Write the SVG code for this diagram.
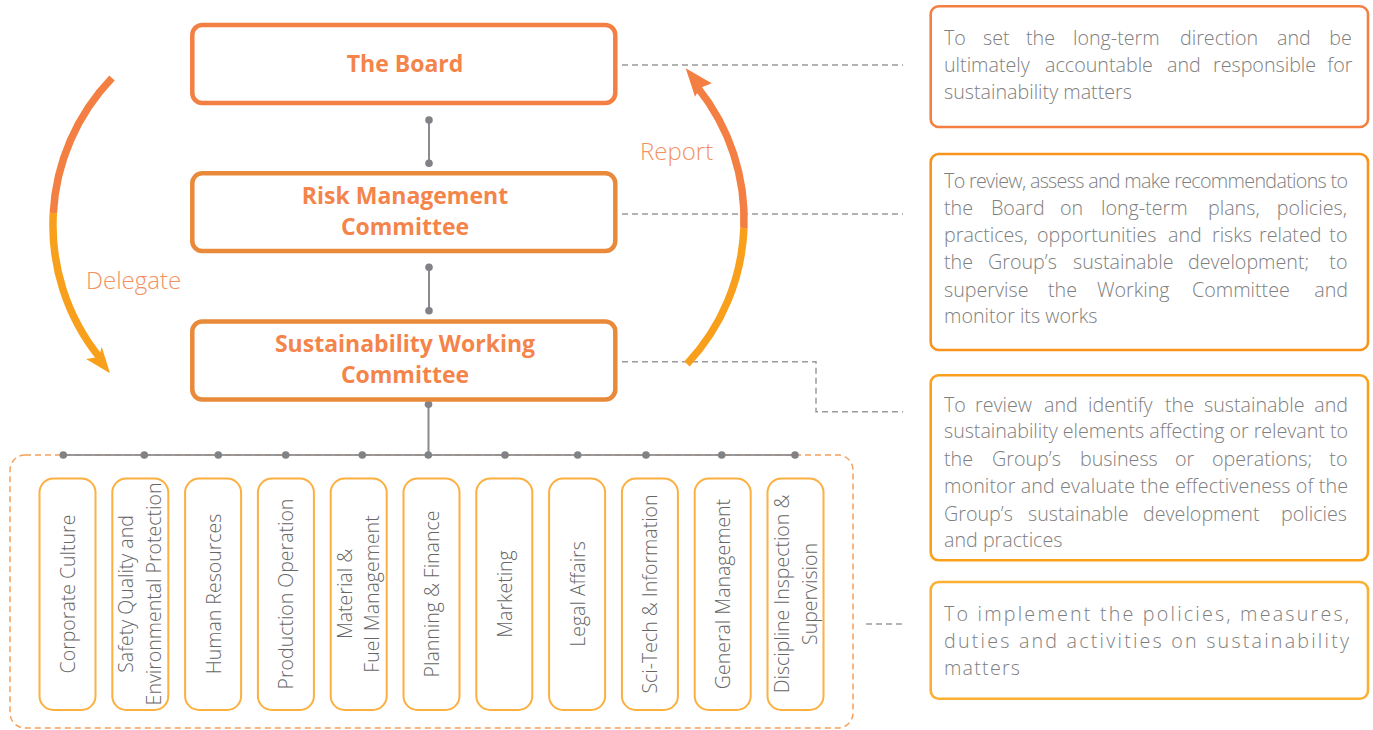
<svg xmlns="http://www.w3.org/2000/svg" width="1373" height="730" viewBox="0 0 1373 730">
<defs>
<style>
.title{font-family:"Open Sans","Liberation Sans",sans-serif;font-weight:700;font-size:23px;fill:#F4844A;text-anchor:middle}
.desc{font-family:"Open Sans","Liberation Sans",sans-serif;font-weight:300;font-size:19.7px;fill:#808080}
.dept{font-family:"Open Sans","Liberation Sans",sans-serif;font-weight:300;font-size:19.5px;fill:#666666;text-anchor:middle}
.lbl{font-family:"Open Sans","Liberation Sans",sans-serif;font-weight:300;font-size:24px;fill:#F4915E}
.mainbox{fill:#fff;stroke-width:4.5}
.dbox{fill:#fff;stroke:#FBB040;stroke-width:2}
.rbox{fill:#fff;stroke-width:2.6}
.gline{stroke:#8a8b8e;stroke-width:2;fill:none}
.dot{fill:#808285}
.dash{stroke:#9a9a9a;stroke-width:1.5;stroke-dasharray:6 4;fill:none}
</style>
</defs>

<g id="connectors">
<path class="dash" d="M622,65 H903"/>
<path class="dash" d="M622,214 H903"/>
<path class="dash" d="M622,361.7 H816 V411.7 H903"/>
<path class="dash" d="M866,624 H903"/>
<rect x="10" y="455" width="843" height="273" rx="15" fill="none" stroke="#F5A05A" stroke-width="1.5" stroke-dasharray="6 4"/>
<line class="gline" x1="429" y1="120" x2="429" y2="163.3"/>
<circle class="dot" cx="429" cy="120" r="3.8"/>
<circle class="dot" cx="429" cy="163.3" r="3.8"/>
<line class="gline" x1="429" y1="267.3" x2="429" y2="310.7"/>
<circle class="dot" cx="429" cy="267.3" r="3.8"/>
<circle class="dot" cx="429" cy="310.7" r="3.8"/>
<line class="gline" x1="428.5" y1="404.3" x2="428.5" y2="455"/>
<circle class="dot" cx="428.5" cy="404.3" r="3.8"/>
<line class="gline" x1="63.3" y1="455" x2="795" y2="455" opacity="0.85"/>
<circle class="dot" cx="63.3" cy="455" r="3.8"/>
<circle class="dot" cx="144.3" cy="455" r="3.8"/>
<circle class="dot" cx="218.3" cy="455" r="3.8"/>
<circle class="dot" cx="285.7" cy="455" r="3.8"/>
<circle class="dot" cx="362.3" cy="455" r="3.8"/>
<circle class="dot" cx="428.3" cy="455" r="3.8"/>
<circle class="dot" cx="505" cy="455" r="3.8"/>
<circle class="dot" cx="577.7" cy="455" r="3.8"/>
<circle class="dot" cx="646" cy="455" r="3.8"/>
<circle class="dot" cx="721.7" cy="455" r="3.8"/>
<circle class="dot" cx="795" cy="455" r="3.8"/>
</g>

<g id="delegate-arrow">
<path d="M112,78 A211,211 0 0 0 53.3,213" fill="none" stroke="#F47F42" stroke-width="7.5"/>
<path d="M53.3,213 A211,211 0 0 0 100,358" fill="none" stroke="#F8A01C" stroke-width="7.5"/>
<polygon points="110,373.3 86,359 99,357 101.7,346.7" fill="#F8A01C"/>
<text class="lbl" x="86" y="289">Delegate</text>
</g>

<g id="report-arrow">
<path d="M687,364 A210.5,210.5 0 0 0 743.9,228" fill="none" stroke="#F8A01C" stroke-width="7.5"/>
<path d="M743.9,228 A210.5,210.5 0 0 0 698,88" fill="none" stroke="#F47F42" stroke-width="7.5"/>
<polygon points="685.7,68.3 711.7,83.3 700,88 695,96.7" fill="#F47F42"/>
<text class="lbl" x="640" y="160">Report</text>
</g>

<g id="board">
<rect class="mainbox" x="192.3" y="25" width="423" height="78" rx="10" stroke="#F47F42"/>
<text class="title" x="405" y="72">The Board</text>
</g>
<g id="risk-management-committee">
<rect class="mainbox" x="192.3" y="173.3" width="423" height="77.7" rx="10" stroke="#E9893A"/>
<text class="title" x="405" y="204">Risk Management</text>
<text class="title" x="405" y="235">Committee</text>
</g>
<g id="sustainability-working-committee">
<rect class="mainbox" x="192.3" y="321.5" width="423" height="78" rx="10" stroke="#E9893A"/>
<text class="title" x="405" y="352">Sustainability Working</text>
<text class="title" x="405" y="383">Committee</text>
</g>

<g id="dept-corporate-culture">
<rect class="dbox" x="39.5" y="478.5" width="56" height="231.5" rx="14"/>
<text class="dept" transform="translate(75,594) rotate(-90)">Corporate Culture</text>
</g>
<g id="dept-safety">
<rect class="dbox" x="112.3" y="478.5" width="56" height="231.5" rx="14"/>
<text class="dept" transform="translate(140.3,594) rotate(-90)"><tspan x="0" y="-7">Safety Quality and</tspan><tspan x="0" y="20.5">Environmental Protection</tspan></text>
</g>
<g id="dept-human-resources">
<rect class="dbox" x="185.1" y="478.5" width="56" height="231.5" rx="14"/>
<text class="dept" transform="translate(220.6,594) rotate(-90)">Human Resources</text>
</g>
<g id="dept-production-operation">
<rect class="dbox" x="257.9" y="478.5" width="56" height="231.5" rx="14"/>
<text class="dept" transform="translate(293.4,594) rotate(-90)">Production Operation</text>
</g>
<g id="dept-material-fuel">
<rect class="dbox" x="330.7" y="478.5" width="56" height="231.5" rx="14"/>
<text class="dept" transform="translate(358.7,594) rotate(-90)"><tspan x="0" y="-6.3">Material &amp;</tspan><tspan x="0" y="20.3">Fuel Management</tspan></text>
</g>
<g id="dept-planning-finance">
<rect class="dbox" x="403.5" y="478.5" width="56" height="231.5" rx="14"/>
<text class="dept" transform="translate(438.7,594) rotate(-90)">Planning &amp; Finance</text>
</g>
<g id="dept-marketing">
<rect class="dbox" x="476.3" y="478.5" width="56" height="231.5" rx="14"/>
<text class="dept" transform="translate(511.8,594) rotate(-90)">Marketing</text>
</g>
<g id="dept-legal-affairs">
<rect class="dbox" x="549.1" y="478.5" width="56" height="231.5" rx="14"/>
<text class="dept" transform="translate(584.6,594) rotate(-90)">Legal Affairs</text>
</g>
<g id="dept-sci-tech">
<rect class="dbox" x="621.9" y="478.5" width="56" height="231.5" rx="14"/>
<text class="dept" transform="translate(657.4,594) rotate(-90)">Sci-Tech &amp; Information</text>
</g>
<g id="dept-general-management">
<rect class="dbox" x="694.7" y="478.5" width="56" height="231.5" rx="14"/>
<text class="dept" transform="translate(730.2,594) rotate(-90)">General Management</text>
</g>
<g id="dept-discipline">
<rect class="dbox" x="767.5" y="478.5" width="56" height="231.5" rx="14"/>
<text class="dept" transform="translate(795.5,594) rotate(-90)"><tspan x="0" y="-6.2">Discipline Inspection &amp;</tspan><tspan x="0" y="21">Supervision</tspan></text>
</g>

<g id="desc-board">
<rect class="rbox" x="930.7" y="6.3" width="437.3" height="120.7" rx="8" stroke="#F47F42"/>
<text class="desc" y="45"><tspan x="944">To</tspan><tspan x="983">set</tspan><tspan x="1026">the</tspan><tspan x="1073">long-term</tspan><tspan x="1180">direction</tspan><tspan x="1277">and</tspan><tspan x="1329.3">be</tspan></text>
<text class="desc" y="72"><tspan x="944">ultimately</tspan><tspan x="1045">accountable</tspan><tspan x="1167">and</tspan><tspan x="1213">responsible</tspan><tspan x="1327.3">for</tspan></text>
<text class="desc" x="944" y="98.5">sustainability matters</text>
</g>

<g id="desc-risk">
<rect class="rbox" x="930.7" y="154" width="437.3" height="196" rx="8" stroke="#F7941D"/>
<text class="desc" x="944" y="188.3" textLength="404" lengthAdjust="spacing">To review, assess and make recommendations to</text>
<text class="desc" y="215"><tspan x="944">the</tspan><tspan x="991">Board</tspan><tspan x="1060">on</tspan><tspan x="1101">long-term</tspan><tspan x="1208">plans,</tspan><tspan x="1276.7">policies,</tspan></text>
<text class="desc" y="241.7"><tspan x="944">practices,</tspan><tspan x="1037">opportunities</tspan><tspan x="1168">and</tspan><tspan x="1212">risks</tspan><tspan x="1259">related</tspan><tspan x="1329.3">to</tspan></text>
<text class="desc" y="269"><tspan x="944">the</tspan><tspan x="988">Group’s</tspan><tspan x="1073">sustainable</tspan><tspan x="1188">development;</tspan><tspan x="1329.3">to</tspan></text>
<text class="desc" y="296.7"><tspan x="944">supervise</tspan><tspan x="1048">the</tspan><tspan x="1097">Working</tspan><tspan x="1192">Committee</tspan><tspan x="1314.3">and</tspan></text>
<text class="desc" x="944" y="323.3">monitor its works</text>
</g>

<g id="desc-working">
<rect class="rbox" x="930.7" y="375.3" width="437.3" height="185" rx="8" stroke="#F9A11B"/>
<text class="desc" y="411.7"><tspan x="944">To</tspan><tspan x="975">review</tspan><tspan x="1044">and</tspan><tspan x="1088">identify</tspan><tspan x="1165">the</tspan><tspan x="1204">sustainable</tspan><tspan x="1314.3">and</tspan></text>
<text class="desc" x="944" y="438.3" textLength="404" lengthAdjust="spacing">sustainability elements affecting or relevant to</text>
<text class="desc" y="466"><tspan x="944">the</tspan><tspan x="992">Group’s</tspan><tspan x="1080">business</tspan><tspan x="1175">or</tspan><tspan x="1212">operations;</tspan><tspan x="1329.3">to</tspan></text>
<text class="desc" x="944" y="493.3" textLength="404" lengthAdjust="spacing">monitor and evaluate the effectiveness of the</text>
<text class="desc" y="520.7"><tspan x="944">Group’s</tspan><tspan x="1028">sustainable</tspan><tspan x="1143">development</tspan><tspan x="1281">policies</tspan></text>
<text class="desc" x="944" y="546.7">and practices</text>
</g>

<g id="desc-departments">
<rect class="rbox" x="930.7" y="582" width="437.3" height="116.7" rx="8" stroke="#FBB034"/>
<text class="desc" x="944" y="621" textLength="405" lengthAdjust="spacing">To implement the policies, measures,</text>
<text class="desc" x="944" y="647.7" textLength="405" lengthAdjust="spacing">duties and activities on sustainability</text>
<text class="desc" x="944" y="675" textLength="76" lengthAdjust="spacing">matters</text>
</g>
</svg>
